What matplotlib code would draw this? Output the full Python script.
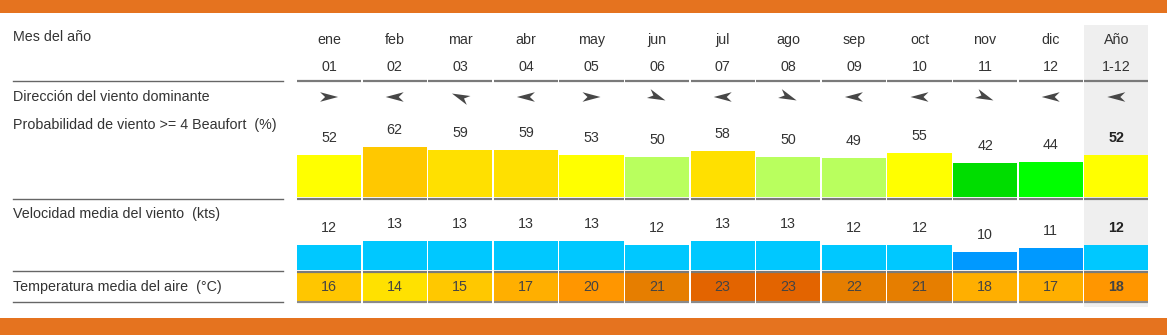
import numpy as np
import matplotlib
matplotlib.use('Agg')
import matplotlib.pyplot as plt
from matplotlib.patches import Polygon, Rectangle

plt.rcParams['font.family'] = ['Liberation Sans', 'DejaVu Sans']

### data
months = ['ene', 'feb', 'mar', 'abr', 'may', 'jun', 'jul', 'ago', 'sep', 'oct', 'nov', 'dic', 'Año']
month_nums = ['01', '02', '03', '04', '05', '06', '07', '08', '09', '10', '11', '12', '1-12']
# direction the arrow points to, degrees counter-clockwise from east
wind_dir = [0, 180, 157.5, 180, 0, -22.5, 180, -22.5, 180, 180, -22.5, 180, 180]
prob = [52, 62, 59, 59, 53, 50, 58, 50, 49, 55, 42, 44, 52]
speed = [12, 13, 13, 13, 13, 12, 13, 13, 12, 12, 10, 11, 12]
temp = [16, 14, 15, 17, 20, 21, 23, 23, 22, 21, 18, 17, 18]

row_labels = ['Mes del año', 'Dirección del viento dominante',
              'Probabilidad de viento >= 4 Beaufort  (%)',
              'Velocidad media del viento  (kts)',
              'Temperatura media del aire  (°C)']

### colours
prob_col = ['#FFFF00', '#FFC800', '#FFE000', '#FFE000', '#FFFF00', '#B9FF5E', '#FFE000',
            '#B9FF5E', '#B9FF5E', '#FFFF00', '#00DD00', '#00FF00', '#FFFF00']
speed_col = ['#00C8FF'] * 10 + ['#0099FF', '#0099FF', '#00C8FF']
temp_col = ['#FFC600', '#FFE100', '#FFC800', '#FFAF00', '#FF9600', '#E67E00', '#E36400',
            '#E36400', '#E67E00', '#E67E00', '#FFAF00', '#FFAF00', '#FF9600']
orange = '#E5731F'
txt = '#333333'

### layout (pixels)
W, H = 1167, 335
x0, step, cw = 297, 65.6, 64.2
prob_base, prob_scale = 197, 0.8
speed_base, speed_scale, speed_off = 270, 3.6, 5
temp_top, temp_bot = 273, 301
fs = 10.3

fig = plt.figure(figsize=(W / 100, H / 100), dpi=100)
ax = fig.add_axes([0, 0, 1, 1])
ax.set_xlim(0, W)
ax.set_ylim(H, 0)
ax.axis('off')

# orange bands
ax.add_patch(Rectangle((0, 0), W, 13, color=orange, lw=0))
ax.add_patch(Rectangle((0, 318), W, H - 318, color=orange, lw=0))

# annual column background
n = len(months)
ax.add_patch(Rectangle((x0 + (n - 1) * step, 25), cw, 282, color='#EFEFEF', lw=0))

# left labels and lines
for lab, y in zip(row_labels, [37, 97, 125, 214, 287]):
    ax.text(13, y, lab, fontsize=fs, color=txt, ha='left', va='center')
for y in [81, 199, 271, 302]:
    ax.plot([13, 283], [y, y], color='#666666', lw=1)

for i in range(n):
    left = x0 + i * step
    xc = left + cw / 2
    last = i == n - 1
    fw = 'bold' if last else 'normal'
    vc = '#222222' if last else txt

    ax.text(xc, 40, months[i], fontsize=fs, color=txt, ha='center', va='center')
    ax.text(xc, 67, month_nums[i], fontsize=fs, color=txt, ha='center', va='center')
    ax.plot([left, left + cw], [81, 81], color='#7a7a7a', lw=1.6, solid_capstyle='butt')

    # wind direction dart
    a = np.deg2rad(wind_dir[i])
    d = np.array([np.cos(a), -np.sin(a)])
    p = np.array([np.sin(a), np.cos(a)])
    c = np.array([xc, 97])
    pts = [c + d * 9, c - d * 9 + p * 4.8, c - d * 4, c - d * 9 - p * 4.8]
    ax.add_patch(Polygon(pts, closed=True, color='#474747', lw=0))

    # probability bar
    h = prob[i] * prob_scale
    ax.bar(xc, -h, bottom=prob_base, width=cw, color=prob_col[i], linewidth=0)
    ax.text(xc, prob_base - h - 17, str(prob[i]), fontsize=fs, color=vc,
            fontweight=fw, ha='center', va='center')
    ax.plot([left, left + cw], [199, 199], color='#7a7a7a', lw=1.6, solid_capstyle='butt')

    # speed bar
    h = (speed[i] - speed_off) * speed_scale
    ax.bar(xc, -h, bottom=speed_base, width=cw, color=speed_col[i], linewidth=0)
    ax.text(xc, speed_base - h - 17, str(speed[i]), fontsize=fs, color=vc,
            fontweight=fw, ha='center', va='center')
    ax.plot([left, left + cw], [271.5, 271.5], color='#7a7a7a', lw=1.6, solid_capstyle='butt')

    # temperature cell
    ax.bar(xc, temp_bot - temp_top, bottom=temp_top, width=cw, color=temp_col[i], linewidth=0)
    ax.text(xc, (temp_top + temp_bot) / 2, str(temp[i]), fontsize=fs, color='#444444',
            fontweight=fw, ha='center', va='center')
    ax.plot([left, left + cw], [302, 302], color='#8a8a8a', lw=1.6, solid_capstyle='butt')

fig.savefig('out.png', dpi=100)
